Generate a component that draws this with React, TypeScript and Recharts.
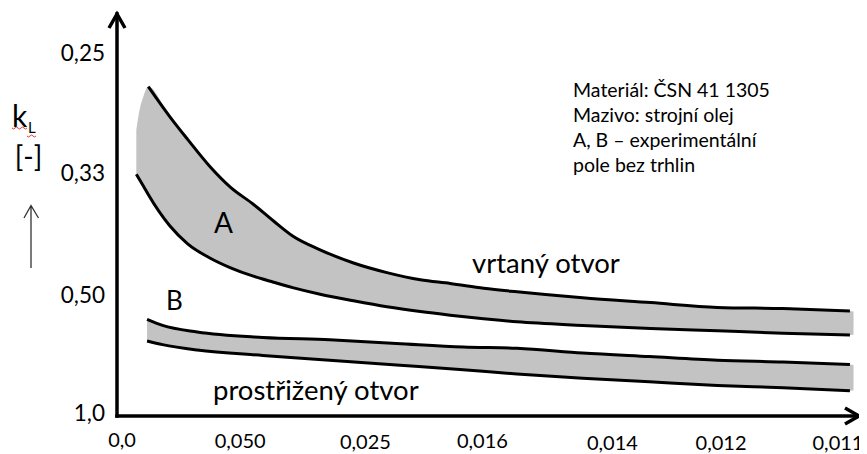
import React from 'react';
import { ComposedChart, Area, Line, XAxis, YAxis } from 'recharts';

// Axis ticks (positions on the drawn, non-linear scale) and their labels
const xTickPos = [0, 0.99, 2.04, 3.02, 4.11, 5.02, 6.0];
const xTickLabels = ['0,0', '0,050', '0,025', '0,016', '0,014', '0,012', '0,011'];
const yTickPos = [0, 0.98, 2, 3];
const yTickLabels = ['1,0', '0,50', '0,33', '0,25'];

// Band A (vrtaný otvor): shared x positions, top edge and bottom edge of the field
const aX = [0.12, 0.15, 0.18, 0.22, 0.40, 0.55, 0.74, 0.91, 1.10, 1.27, 1.43, 1.66, 1.94, 2.22, 2.50, 2.75, 3.03, 3.31, 3.86, 4.43, 4.99, 5.54, 6.10, 6.13];
const aTopY = [2.36, 2.54, 2.64, 2.72, 2.47, 2.28, 2.05, 1.88, 1.74, 1.60, 1.475, 1.36, 1.25, 1.17, 1.11, 1.08, 1.04, 1.01, 0.96, 0.92, 0.88, 0.87, 0.85, 0.845];
const aBottomY = [1.99, 1.94, 1.89, 1.82, 1.56, 1.41, 1.29, 1.21, 1.14, 1.09, 1.045, 0.99, 0.935, 0.885, 0.845, 0.815, 0.785, 0.76, 0.73, 0.705, 0.685, 0.665, 0.65, 0.655];
// index range of the drawn boundary lines inside aX
const aUpperFrom = 3;
const aLowerFrom = 0;
const aLineTo = 23; // exclusive: the last point is only the rounded end of the field

// Band B (prostřižený otvor)
const bX = [0.21, 0.34, 0.63, 1.18, 1.74, 2.30, 2.86, 3.31, 3.86, 4.42, 4.99, 5.54, 6.10, 6.13];
const bTopY = [0.78, 0.73, 0.675, 0.63, 0.61, 0.58, 0.55, 0.54, 0.50, 0.47, 0.44, 0.425, 0.405, 0.40];
const bBottomY = [0.60, 0.57, 0.525, 0.48, 0.44, 0.40, 0.36, 0.325, 0.29, 0.26, 0.23, 0.21, 0.185, 0.19];
const bLineTo = 13;

// Annotation texts
const noteLines = ['Materiál: ČSN 41 1305', 'Mazivo: strojní olej', 'A, B – experimentální', 'pole bez trhlin'];
const labelA = 'A';
const labelB = 'B';
const labelDrilled = 'vrtaný otvor';
const labelPunched = 'prostřižený otvor';

// style-only nudges for the hand-placed x tick labels (px)
const xTickNudge = [0, 1, 2, 1, 3, 3, 3];

const FONT = "Lato, 'Open Sans', sans-serif";

const rows = (xs: number[], ys: number[], from: number, to: number) =>
  xs.slice(from, to).map((x, i) => ({ x, y: ys[from + i] }));
const aUpper = rows(aX, aTopY, aUpperFrom, aLineTo);
const aLower = rows(aX, aBottomY, aLowerFrom, aLineTo);
const aFill = aX.map((x, i) => ({ x, range: [aBottomY[i], aTopY[i]] }));
const bUpper = rows(bX, bTopY, 0, bLineTo);
const bLower = rows(bX, bBottomY, 0, bLineTo);
const bFill = bX.map((x, i) => ({ x, range: [bBottomY[i], bTopY[i]] }));

const XTick = (props: any) => {
  const { x, y, payload } = props;
  const i = xTickPos.indexOf(payload.value);
  return (
    <text x={x} y={y + 13 + (xTickNudge[i] || 0)} textAnchor="middle" fontFamily={FONT} fontSize={20} fill="#000">
      {xTickLabels[i]}
    </text>
  );
};

const YTick = (props: any) => {
  const { x, y, payload } = props;
  const i = yTickPos.indexOf(payload.value);
  return (
    <text x={x} y={y} dy="0.355em" textAnchor="end" fontFamily={FONT} fontSize={22.5} fill="#000">
      {yTickLabels[i]}
    </text>
  );
};

const GRAY = '#c3c3c3';
const lineProps = { type: 'monotone' as const, stroke: '#000', strokeWidth: 3, dot: false, activeDot: false, isAnimationActive: false };

export default function App() {
  return (
    <div style={{ position: 'relative', width: 859, height: 446 }}>
      <svg width={0} height={0} style={{ position: 'absolute' }}>
        <defs>
          <marker
            id="axArrow"
            markerUnits="userSpaceOnUse"
            markerWidth={30}
            markerHeight={30}
            viewBox="-22 -15 30 30"
            refX={0}
            refY={0}
            orient="auto-start-reverse"
          >
            <path d="M -14 -8 L 0 0 L -14 8" fill="none" stroke="#000" strokeWidth={3.5} strokeLinejoin="miter" />
          </marker>
        </defs>
      </svg>
      <ComposedChart width={859} height={446} margin={{ top: 6, right: 8, bottom: 0, left: 0 }}>
        <XAxis
          type="number"
          dataKey="x"
          domain={[-0.042, 6.176]}
          ticks={xTickPos}
          interval={0}
          allowDataOverflow
          height={38}
          tickSize={0}
          tickMargin={18}
          tickLine={false}
          tick={<XTick />}
          axisLine={{ stroke: '#000', strokeWidth: 3.5, strokeLinecap: 'square', markerEnd: 'url(#axArrow)' }}
        />
        <YAxis
          type="number"
          dataKey="y"
          domain={[-0.025, 3.325]}
          ticks={yTickPos}
          interval={0}
          allowDataOverflow
          width={109}
          tickSize={0}
          tickMargin={12}
          tickLine={false}
          tick={<YTick />}
          axisLine={{ stroke: '#000', strokeWidth: 3.5, strokeLinecap: 'square', markerStart: 'url(#axArrow)' }}
        />
        <Area data={aFill} dataKey="range" type="monotone" fill={GRAY} fillOpacity={1} stroke="none" isAnimationActive={false} />
        <Area data={bFill} dataKey="range" type="monotone" fill={GRAY} fillOpacity={1} stroke="none" isAnimationActive={false} />
        <Line data={aUpper} dataKey="y" {...lineProps} />
        <Line data={aLower} dataKey="y" {...lineProps} />
        <Line data={bUpper} dataKey="y" {...lineProps} />
        <Line data={bLower} dataKey="y" {...lineProps} />
      </ComposedChart>
      <svg
        width={867}
        height={454}
        style={{ position: 'absolute', left: -8, top: -8, pointerEvents: 'none' }}
        fontFamily={FONT}
      >
        {noteLines.map((t, i) => (
          <text key={i} x={573} y={97 + i * 25} fontSize={19.5} fill="#000">
            {t}
          </text>
        ))}
        <text x={472} y={273} fontSize={27.5} fill="#000">{labelDrilled}</text>
        <text x={213} y={400} fontSize={27.5} fill="#000">{labelPunched}</text>
        <text x={214} y={233} fontSize={28} fill="#000">{labelA}</text>
        <text x={166} y={310} fontSize={26} fill="#000">{labelB}</text>
        <text x={12} y={127} fontSize={30} fill="#000">k</text>
        <text x={28} y={133} fontSize={15} fill="#000">L</text>
        <path d="M12 128 q1.5 2 3 0 t3 0 t3 0 t3 0 t3 0" fill="none" stroke="#e53935" strokeWidth={1} />
        <path d="M27 136 q1.5 2 3 0 t3 0 t3 0" fill="none" stroke="#e53935" strokeWidth={1} />
        <text x={28.5} y={167} fontSize={28} textAnchor="middle" fill="#000">[-]</text>
        <path d="M31 268 L31 206 M24 218 L31 205.5 L38.5 218" fill="none" stroke="#333" strokeWidth={1.3} />
      </svg>
    </div>
  );
}
